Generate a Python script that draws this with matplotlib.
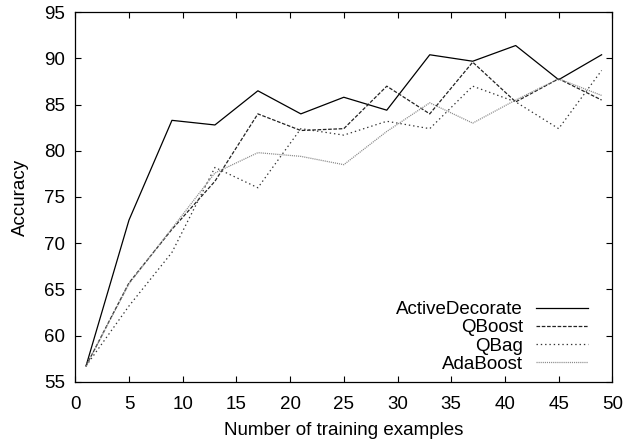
import matplotlib
matplotlib.use("Agg")
import matplotlib.pyplot as plt

plt.rcParams['font.family'] = ['Liberation Sans', 'DejaVu Sans']
plt.rcParams['lines.scale_dashes'] = False

x = [1, 5, 9, 13, 17, 21, 25, 29, 33, 37, 41, 45, 49]
active_decorate = [56.7, 72.5, 83.3, 82.8, 86.5, 84.0, 85.8, 84.4, 90.4, 89.7, 91.4, 87.7, 90.4]
qboost = [56.7, 65.7, 71.5, 76.7, 84.0, 82.2, 82.4, 87.0, 84.0, 89.6, 85.3, 87.8, 85.5]
qbag = [56.7, 63.2, 69.0, 78.2, 76.0, 82.4, 81.7, 83.2, 82.4, 87.0, 85.3, 82.4, 88.7]
adaboost = [56.7, 65.6, 71.6, 77.6, 79.8, 79.4, 78.5, 82.1, 85.2, 83.0, 85.5, 87.8, 86.0]

xticks = [0, 5, 10, 15, 20, 25, 30, 35, 40, 45, 50]
yticks = [55, 60, 65, 70, 75, 80, 85, 90, 95]

fig = plt.figure(figsize=(6.32, 4.42), dpi=100)
ax = fig.add_axes([0.1191, 0.1364, 0.8498, 0.8358])

fs = 13.5
ax.plot(x, active_decorate, color='black', lw=0.9, label='ActiveDecorate')
ax.plot(x, qboost, color='#222222', lw=0.9, dashes=(2.6, 1.2), label='QBoost')
ax.plot(x, qbag, color='#333333', lw=0.9, dashes=(1.0, 2.1), label='QBag')
ax.plot(x, adaboost, color='#8a8a8a', lw=0.9, dashes=(0.8, 0.7), label='AdaBoost')

ax.set_xlim(0, 50)
ax.set_ylim(55, 95)
ax.set_xticks(xticks)
ax.set_yticks(yticks)
ax.tick_params(direction='in', top=True, right=True, length=4, width=0.8,
               labelsize=fs)
ax.tick_params(axis='x', pad=10.5)
ax.tick_params(axis='y', pad=7.5)
for s in ax.spines.values():
    s.set_linewidth(0.9)

ax.set_xlabel('Number of training examples', fontsize=fs, labelpad=6)
ax.set_ylabel('Accuracy', fontsize=fs, labelpad=10.5)

leg = ax.legend(loc='lower right', bbox_to_anchor=(0.9553, 0.0236), frameon=False,
                markerfirst=False, fontsize=fs, handlelength=2.77, handletextpad=0.71,
                labelspacing=0.06, borderpad=0, borderaxespad=0)

fig.savefig('out.png', dpi=100)
